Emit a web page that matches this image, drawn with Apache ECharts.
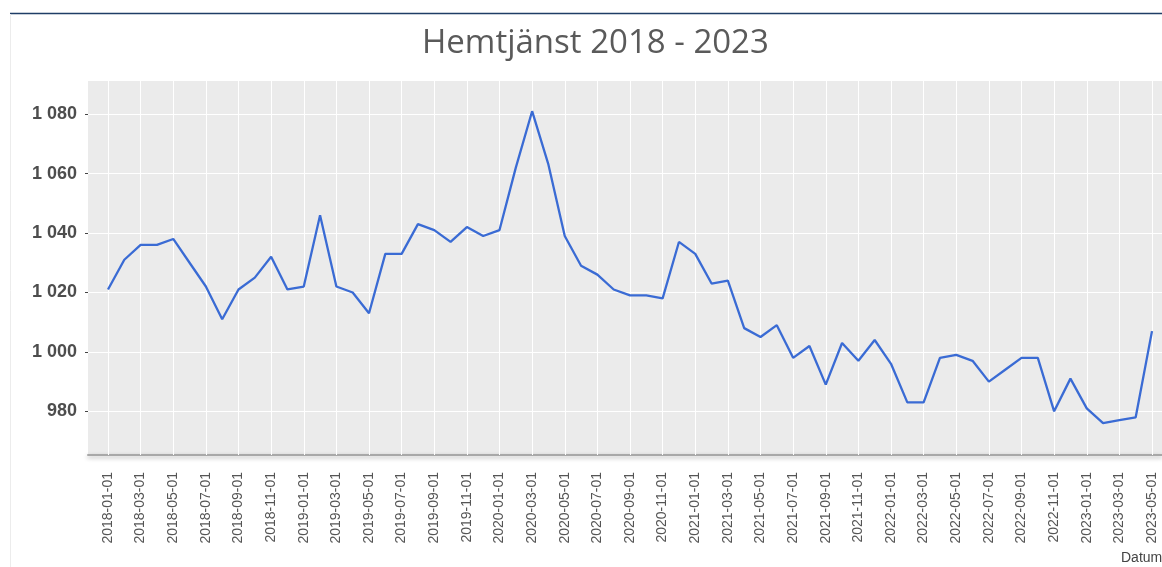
<!DOCTYPE html>
<html>
<head>
<meta charset="utf-8">
<script src="https://cdn.jsdelivr.net/npm/echarts@6/dist/echarts.min.js"></script>
<style>
html,body{margin:0;padding:0;background:#fff;}
#c{width:1162px;height:567px;}
</style>
</head>
<body>
<div id="c"></div>
<script>
// Monthly categories 2018-01 .. 2023-05
const categories = [
  '2018-01-01','2018-02-01','2018-03-01','2018-04-01','2018-05-01','2018-06-01','2018-07-01','2018-08-01','2018-09-01','2018-10-01','2018-11-01','2018-12-01',
  '2019-01-01','2019-02-01','2019-03-01','2019-04-01','2019-05-01','2019-06-01','2019-07-01','2019-08-01','2019-09-01','2019-10-01','2019-11-01','2019-12-01',
  '2020-01-01','2020-02-01','2020-03-01','2020-04-01','2020-05-01','2020-06-01','2020-07-01','2020-08-01','2020-09-01','2020-10-01','2020-11-01','2020-12-01',
  '2021-01-01','2021-02-01','2021-03-01','2021-04-01','2021-05-01','2021-06-01','2021-07-01','2021-08-01','2021-09-01','2021-10-01','2021-11-01','2021-12-01',
  '2022-01-01','2022-02-01','2022-03-01','2022-04-01','2022-05-01','2022-06-01','2022-07-01','2022-08-01','2022-09-01','2022-10-01','2022-11-01','2022-12-01',
  '2023-01-01','2023-02-01','2023-03-01','2023-04-01','2023-05-01'
];
const hemtjanst = [
  1021,1031,1036,1036,1038,1030,1022,1011,1021,1025,1032,1021,
  1022,1046,1022,1020,1013,1033,1033,1043,1041,1037,1042,1039,
  1041,1062,1081,1063,1039,1029,1026,1021,1019,1019,1018,1037,
  1033,1023,1024,1008,1005,1009,998,1002,989,1003,997,1004,
  996,983,983,998,999,997,990,994,998,998,980,991,
  981,976,977,978,1007
];
const yMin = 965.3;
const yMax = 1091.5;
const titleText = 'Hemtjänst 2018 - 2023';
const xName = 'Datum';

function fmt(v){ return String(Math.round(v)).replace(/\B(?=(\d{3})+(?!\d))/g, ' '); }

const chart = echarts.init(document.getElementById('c'), null, {renderer:'canvas'});
chart.setOption({
  animation:false,
  backgroundColor:'#fff',
  title:{
    text:titleText, left:417, top:22,
    textStyle:{fontFamily:'Open Sans', fontSize:33, fontWeight:'normal', color:'#5a5a5a'}
  },
  graphic:[
    {type:'line', z:10, shape:{x1:10,y1:13.5,x2:1162,y2:13.5}, style:{stroke:'#1f3d66', lineWidth:1.5}},
    {type:'line', z:10, shape:{x1:10.5,y1:14,x2:10.5,y2:567}, style:{stroke:'#ececec', lineWidth:1}},
    {type:'text', z:10, left:1121, top:551, style:{text:xName, fontFamily:'Liberation Sans', fontSize:14, fill:'#444'}}
  ],
  grid:[
    {left:108, top:80, width:1044, bottom:112, z:2},
    {left:88, top:80, right:-10, bottom:112, show:true, backgroundColor:'#ebebeb', borderWidth:0, z:0}
  ],
  xAxis:[
    {
      type:'category', gridIndex:0, data:categories, boundaryGap:false, z:3,
      axisLine:{show:false}, axisTick:{show:false},
      splitLine:{show:true, interval:1, lineStyle:{color:'#ffffff', width:1}},
      axisLabel:{rotate:90, interval:1, margin:17, fontFamily:'Liberation Sans', fontSize:14, color:'#555'}
    },
    {
      type:'value', gridIndex:1, min:0, max:1, z:1,
      axisLine:{show:true, onZero:false, lineStyle:{color:'#a8a8a8', width:2, shadowColor:'rgba(0,0,0,0.3)', shadowBlur:4, shadowOffsetY:2}},
      axisTick:{show:false}, axisLabel:{show:false}, splitLine:{show:false}
    }
  ],
  yAxis:[
    {type:'value', gridIndex:0, min:yMin, max:yMax, show:false, splitLine:{show:false}},
    {
      type:'value', gridIndex:1, min:yMin, max:yMax, splitNumber:6, minInterval:20, maxInterval:20, z:1,
      axisLine:{show:false},
      axisTick:{show:true, length:3, lineStyle:{color:'#444', width:1}},
      splitLine:{show:true, lineStyle:{color:'#ffffff', width:1.2}},
      axisLabel:{showMinLabel:false, showMaxLabel:false, margin:11, formatter:fmt,
        fontFamily:'Liberation Sans', fontSize:18, fontWeight:'bold', color:'#4d4d4d'}
    }
  ],
  series:[{
    type:'line', xAxisIndex:0, yAxisIndex:0, data:hemtjanst, z:5,
    showSymbol:false, symbol:'none',
    lineStyle:{color:'#3a6bd4', width:2.3}
  }]
});
</script>
</body>
</html>
